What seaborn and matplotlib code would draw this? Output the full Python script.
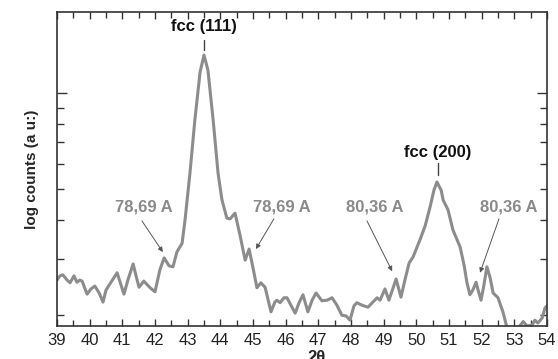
import numpy as np
import pandas as pd
import seaborn as sns
from matplotlib import pyplot as plt
from matplotlib.ticker import MultipleLocator, NullFormatter, LogLocator

# XRD scan (2theta in degrees, counts in arbitrary units)
two_theta = [39.00, 39.09, 39.18, 39.31, 39.40, 39.52, 39.61, 39.70, 39.77, 39.92,
             40.04, 40.16, 40.29, 40.41, 40.50, 40.62, 40.84, 40.96, 41.05, 41.17,
             41.33, 41.42, 41.51, 41.66, 41.85, 42.00, 42.15, 42.28, 42.43, 42.55,
             42.67, 42.83, 42.92, 43.07, 43.22, 43.38, 43.50, 43.62, 43.78, 43.93,
             44.05, 44.20, 44.30, 44.45, 44.60, 44.76, 44.88, 45.00, 45.12, 45.24,
             45.37, 45.55, 45.67, 45.73, 45.83, 45.95, 46.04, 46.29, 46.41, 46.53,
             46.68, 46.81, 46.93, 47.11, 47.27, 47.42, 47.57, 47.72, 47.85, 47.97,
             48.09, 48.18, 48.34, 48.52, 48.67, 48.80, 48.89, 49.04, 49.16, 49.29,
             49.38, 49.53, 49.65, 49.78, 49.90, 50.11, 50.27, 50.42, 50.54, 50.63,
             50.76, 50.82, 50.97, 51.12, 51.34, 51.46, 51.55, 51.64, 51.73, 51.83,
             51.89, 51.98, 52.07, 52.16, 52.26, 52.35, 52.50, 52.65, 52.78, 52.93,
             53.08, 53.27, 53.39, 53.54, 53.63, 53.72, 53.85, 53.94, 54.00]
counts = [258, 266, 268, 258, 253, 266, 254, 258, 256, 233,
          242, 247, 235, 220, 240, 251, 272, 249, 233, 258,
          290, 266, 245, 256, 244, 237, 278, 303, 286, 284,
          316, 337, 399, 560, 822, 1164, 1317, 1181, 822, 560,
          461, 404, 402, 419, 358, 298, 323, 282, 244, 253,
          245, 205, 220, 223, 219, 227, 227, 203, 219, 232,
          205, 223, 235, 222, 223, 227, 215, 200, 199, 193,
          214, 219, 215, 212, 220, 227, 223, 242, 223, 244,
          260, 228, 258, 292, 305, 345, 382, 438, 495, 525,
          495, 461, 429, 371, 328, 288, 253, 232, 240, 254,
          240, 223, 249, 284, 262, 235, 227, 205, 182, 173,
          180, 191, 185, 186, 193, 189, 196, 211, 214]

peak_labels = ['fcc (111)', 'fcc (200)']
peak_pos = [43.50, 50.66]

size_labels = ['78,69 A', '78,69 A', '80,36 A', '80,36 A']
size_text_x = [41.66, 45.89, 48.73, 52.84]
size_tail = [(41.60, 396), (45.64, 402), (48.49, 396), (52.53, 402)]
size_head = [(42.24, 316), (45.09, 323), (49.26, 275), (51.95, 272)]

df = pd.DataFrame({'2theta': two_theta, 'counts': counts})

sns.set_style('ticks')
plt.rcParams['font.family'] = ['Liberation Sans', 'DejaVu Sans']

fig = plt.figure(figsize=(5.58, 3.59), dpi=100)
ax = fig.add_axes([57 / 558, 33 / 359, 490 / 558, 314 / 359])

sns.lineplot(data=df, x='2theta', y='counts', ax=ax, color='#8c8c8c',
             linewidth=2.2, estimator=None, sort=False)
for line in ax.get_lines():
    line.set_solid_joinstyle('round')
    line.set_clip_on(True)

ax.set_yscale('log')
ax.set_xlim(39, 54)
ax.set_ylim(185, 1798)

ax.xaxis.set_major_locator(MultipleLocator(1))
ax.xaxis.set_minor_locator(MultipleLocator(0.5))
ax.yaxis.set_major_locator(LogLocator(base=10))
ax.yaxis.set_minor_locator(LogLocator(base=10, subs=np.arange(2, 10)))
ax.yaxis.set_major_formatter(NullFormatter())
ax.yaxis.set_minor_formatter(NullFormatter())

ax.tick_params(which='both', direction='in', top=True, right=True,
               color='#333333', width=1.0)
ax.tick_params(axis='x', which='major', length=5, labelsize=12, pad=5,
               labelcolor='#222222')
ax.tick_params(axis='x', which='minor', length=4)
ax.tick_params(axis='y', which='major', length=7)
ax.tick_params(axis='y', which='minor', length=5)
for s in ax.spines.values():
    s.set_color('#333333')
    s.set_linewidth(1.2)

ax.set_xlabel('2θ', fontsize=12, fontweight='bold', va='top')
ax.xaxis.set_label_coords(0.53, -0.076)
ax.set_ylabel('log counts (a u:)', fontsize=11, fontweight='bold')
ax.yaxis.set_label_coords(-0.037, 0.5)

# peak names with short marker lines
ax.text(peak_pos[0], 1613, peak_labels[0], ha='center', va='center',
        fontsize=12, fontweight='bold', color='#111111')
ax.plot([peak_pos[0], peak_pos[0]], [1468, 1365], color='#444444', lw=1.0)
ax.text(peak_pos[1], 648, peak_labels[1], ha='center', va='center',
        fontsize=12, fontweight='bold', color='#111111')
ax.plot([peak_pos[1], peak_pos[1]], [603, 552], color='#444444', lw=1.0)

# crystallite sizes with arrows
for lab, tx, tail, head in zip(size_labels, size_text_x, size_tail, size_head):
    ax.text(tx, 438, lab, ha='center', va='center', fontsize=12,
            fontweight='bold', color='#8a8a8a')
    ax.annotate('', xy=head, xytext=tail,
                arrowprops=dict(arrowstyle='-|>', color='#555555', lw=0.7,
                                mutation_scale=7, shrinkA=0, shrinkB=0))

fig.savefig('out.png', dpi=100)
